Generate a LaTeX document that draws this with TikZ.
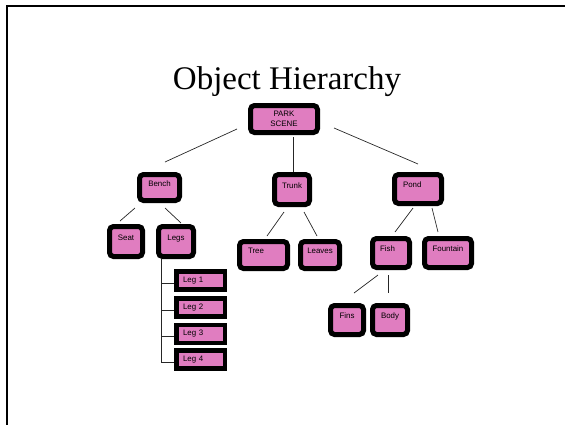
\documentclass[tikz,border=0pt]{standalone}
\usepackage{fontspec}
\setmainfont{Liberation Serif}
\newfontfamily\arialf{Liberation Sans}
\usetikzlibrary{calc}
\definecolor{pinkfill}{RGB}{224,125,192}
\begin{document}
\begin{tikzpicture}[x=1pt,y=-1pt,
  pbox/.style={draw=black, line width=5pt, fill=pinkfill, rounded corners=4pt,
    font=\arialf\fontsize{7.9}{10}\selectfont, inner sep=0pt,
    text height=5.5pt, text depth=8pt, align=center},
  lbox/.style={draw=black, line width=4.5pt, fill=pinkfill,
    font=\arialf\fontsize{7.9}{10}\selectfont, inner ysep=0pt, inner xsep=6.75pt,
    text width=35pt, align=left, minimum width=48.5pt, minimum height=18pt},
  conn/.style={line width=0.7pt, black!85}]
\useasboundingbox (0,0) rectangle (565,424);
% slide frame
\draw[line width=2.3pt] (7,440) -- (7,6) -- (580,6);
% title
\node[font=\fontsize{33}{36}\selectfont, anchor=base, inner sep=0pt] (title) at (287,89) {Object Hierarchy};
% boxes
\node[pbox, minimum width=67pt, minimum height=27pt, text height={}, text depth={}] (park) at (284,119) {PARK\\SCENE};
\node[pbox, minimum width=40pt, minimum height=26pt] (bench) at (159.5,187.5) {Bench};
\node[pbox, minimum width=35pt, minimum height=30pt] (trunk) at (292,189.5) {Trunk};
\node[pbox, minimum width=47pt, minimum height=29pt, text width=30pt, inner xsep=8.5pt, align=left] (pond) at (418,189) {Pond};
\node[pbox, minimum width=33pt, minimum height=30pt] (seat) at (126,241.5) {Seat};
\node[pbox, minimum width=35pt, minimum height=30pt] (legs) at (176,241.5) {Legs};
\node[pbox, minimum width=48pt, minimum height=27pt, text width=31pt, inner xsep=8.5pt, align=left] (tree) at (263.5,255) {Tree};
\node[pbox, minimum width=39pt, minimum height=27pt] (leaves) at (320,255) {Leaves};
\node[pbox, minimum width=37pt, minimum height=29pt, text width=22pt, inner xsep=7.5pt, align=left] (fish) at (391,253) {Fish};
\node[pbox, minimum width=47pt, minimum height=29pt] (fountain) at (448,253) {Fountain};
\node[pbox, minimum width=33pt, minimum height=29pt] (fins) at (347,320) {Fins};
\node[pbox, minimum width=35pt, minimum height=29pt] (body) at (390,320) {Body};
\node[lbox] (leg1) at (200.5,280.5) {Leg 1};
\node[lbox] (leg2) at (200.5,307.5) {Leg 2};
\node[lbox] (leg3) at (200.5,334) {Leg 3};
\node[lbox] (leg4) at (200.5,359.5) {Leg 4};
% connector end points
\coordinate (pb1) at (237,129); \coordinate (pb2) at (165,162);
\coordinate (pp1) at (334,128); \coordinate (pp2) at (418,164);
\coordinate (bs1) at (135,208); \coordinate (bs2) at (120,221);
\coordinate (bl1) at (165,208); \coordinate (bl2) at (181,223);
\coordinate (tt1) at (284,212); \coordinate (tt2) at (267,236);
\coordinate (tl1) at (304,212); \coordinate (tl2) at (317,236);
\coordinate (pf1) at (413,208); \coordinate (pf2) at (395,232);
\coordinate (pn1) at (432,208); \coordinate (pn2) at (438,232);
\coordinate (ff1) at (378,275); \coordinate (ff2) at (354,293);
\coordinate (fb1) at (388,275); \coordinate (fb2) at (388,293);
\coordinate (lv) at (161,362);
% connectors
\draw[conn] (pb1) -- (pb2);
\draw[conn] (pp1) -- (pp2);
\draw[conn] ($(trunk.north |- park.south)+(1,2)$) -- ($(trunk.north)+(1,0)$);
\draw[conn] (bs1) -- (bs2);
\draw[conn] (bl1) -- (bl2);
\draw[conn] (tt1) -- (tt2);
\draw[conn] (tl1) -- (tl2);
\draw[conn] (pf1) -- (pf2);
\draw[conn] (pn1) -- (pn2);
\draw[conn] (ff1) -- (ff2);
\draw[conn] (fb1) -- (fb2);
\draw[conn] (legs.south -| lv) -- (lv);
\foreach \n in {leg1,leg2,leg3,leg4}{
  \draw[conn] ($(\n.west -| lv)+(0,2.5)$) -- ($(\n.west)+(0,2.5)$);
}
\end{tikzpicture}
\end{document}
